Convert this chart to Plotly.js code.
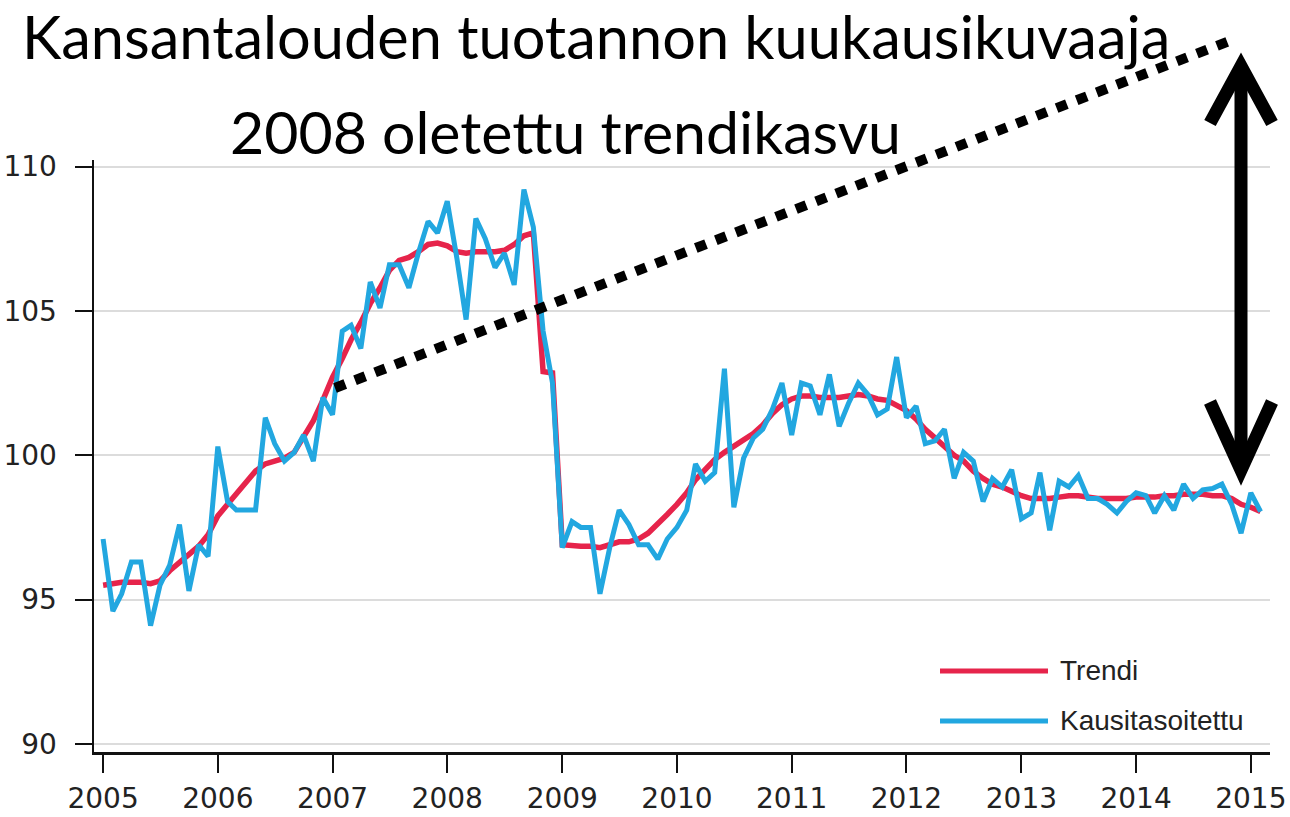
<!DOCTYPE html>
<html>
<head>
<meta charset="utf-8">
<script src="https://cdn.plot.ly/plotly-3.0.1.min.js"></script>
<style>html,body{margin:0;padding:0;background:#fff;}#chart{width:1290px;height:817px;}</style>
</head>
<body>
<div id="chart"></div>
<script>
// ---- data (monthly, Jan 2005 .. Feb 2015) ----
const startYear = 2005;
const yearTicks = ['2005','2006','2007','2008','2009','2010','2011','2012','2013','2014','2015'];
const yTicks = [90, 95, 100, 105, 110];
const seriesNames = ['Trendi', 'Kausitasoitettu'];
const trendi = [
  95.5, 95.55, 95.6, 95.6, 95.6, 95.55, 95.65, 96.0, 96.3, 96.55, 96.85, 97.25,
  97.9, 98.3, 98.65, 99.05, 99.45, 99.7, 99.8, 99.9, 100.1, 100.6, 101.2, 101.9,
  102.7, 103.35, 104.0, 104.6, 105.25, 105.8, 106.4, 106.75, 106.85, 107.05, 107.3, 107.35,
  107.25, 107.05, 107.0, 107.05, 107.05, 107.05, 107.1, 107.3, 107.6, 107.7, 102.9, 102.85,
  96.9, 96.85, 96.85, 96.85, 96.8, 96.9, 97.0, 97.0, 97.1, 97.3, 97.6, 97.95,
  98.3, 98.7, 99.15, 99.5, 99.85, 100.1, 100.3, 100.5, 100.75, 101.05, 101.45, 101.75,
  101.95, 102.05, 102.05, 102.0, 102.0, 102.0, 102.05, 102.1, 102.05, 101.95, 101.9, 101.75,
  101.55, 101.25, 100.9, 100.6, 100.3, 100.0, 99.8, 99.45, 99.2, 99.0, 98.9, 98.75,
  98.6, 98.5, 98.5, 98.5, 98.55, 98.6, 98.6, 98.55, 98.5, 98.5, 98.5, 98.5,
  98.55, 98.55, 98.55, 98.6, 98.6, 98.65, 98.65, 98.65, 98.6, 98.6, 98.5, 98.3,
  98.2, 98.05
];
const kausitasoitettu = [
  97.1, 94.6, 95.2, 96.3, 96.3, 94.1, 95.5, 96.2, 97.6, 95.3, 96.9, 96.5,
  100.3, 98.4, 98.1, 98.1, 98.1, 101.3, 100.4, 99.8, 100.1, 100.7, 99.8, 102.0,
  101.4, 104.3, 104.5, 103.7, 106.0, 105.1, 106.6, 106.6, 105.8, 107.0, 108.1, 107.7,
  108.8, 106.8, 104.7, 108.2, 107.5, 106.5, 107.0, 105.9, 109.2, 107.9, 104.3, 102.5,
  96.8, 97.7, 97.5, 97.5, 95.2, 96.8, 98.1, 97.6, 96.9, 96.9, 96.4, 97.1,
  97.5, 98.1, 99.7, 99.1, 99.4, 103.0, 98.2, 99.9, 100.6, 100.9, 101.6, 102.5,
  100.7, 102.5, 102.4, 101.4, 102.8, 101.0, 101.8, 102.5, 102.1, 101.4, 101.6, 103.4,
  101.3, 101.7, 100.4, 100.5, 100.9, 99.2, 100.1, 99.8, 98.4, 99.2, 98.9, 99.5,
  97.8, 98.0, 99.4, 97.4, 99.1, 98.9, 99.3, 98.5, 98.5, 98.3, 98.0, 98.4,
  98.7, 98.6, 98.0, 98.6, 98.1, 99.0, 98.5, 98.8, 98.85, 99.0, 98.3, 97.3,
  98.7, 98.05
];
const titleText = 'Kansantalouden tuotannon kuukausikuvaaja';
const subtitleText = '2008 oletettu trendikasvu';

// month dates for the x axis
const months = trendi.map((_, i) => {
  const y = startYear + Math.floor(i / 12);
  const m = (i % 12) + 1;
  return y + '-' + String(m).padStart(2, '0') + '-01';
});

const RED = '#e6244b';
const BLUE = '#22a7e0';

// pixel -> paper helpers (plot area: x 94..1270, y 160..752)
const L = 94, R = 1270, T = 160, B = 752;
const xp = px => (px - L) / (R - L);
const yp = py => (B - py) / (B - T);

const traces = [
  {x: months, y: trendi, type: 'scatter', mode: 'lines', name: seriesNames[0],
   line: {color: RED, width: 5.5}},
  {x: months, y: kausitasoitettu, type: 'scatter', mode: 'lines', name: seriesNames[1],
   line: {color: BLUE, width: 5}}
];

const shapes = [
  // assumed trend growth (dotted)
  {type: 'line', xref: 'paper', yref: 'paper', x0: xp(335), y0: yp(388), x1: xp(1232), y1: yp(40),
   line: {color: '#000', width: 10, dash: '11px,10.5px'}},
  // double arrow shaft
  {type: 'line', xref: 'paper', yref: 'paper', x0: xp(1241), y0: yp(68), x1: xp(1241), y1: yp(468),
   line: {color: '#000', width: 13}},
  // top chevron
  {type: 'path', xref: 'paper', yref: 'paper',
   path: 'M' + xp(1210) + ',' + yp(123) + ' L' + xp(1241) + ',' + yp(66) + ' L' + xp(1272) + ',' + yp(123),
   line: {color: '#000', width: 13}},
  // bottom chevron
  {type: 'path', xref: 'paper', yref: 'paper',
   path: 'M' + xp(1210) + ',' + yp(402) + ' L' + xp(1241) + ',' + yp(470) + ' L' + xp(1272) + ',' + yp(402),
   line: {color: '#000', width: 13}},
  // legend samples
  {type: 'line', xref: 'paper', yref: 'paper', x0: xp(940), y0: yp(671), x1: xp(1048), y1: yp(671),
   line: {color: RED, width: 5}},
  {type: 'line', xref: 'paper', yref: 'paper', x0: xp(940), y0: yp(721), x1: xp(1048), y1: yp(721),
   line: {color: BLUE, width: 5}}
];

const annotations = [
  {text: subtitleText, xref: 'paper', yref: 'paper', x: xp(565), y: yp(131), xanchor: 'center', yanchor: 'middle',
   showarrow: false, font: {family: 'Lato, "Open Sans", sans-serif', size: 59, color: '#000'}},
  {text: seriesNames[0], xref: 'paper', yref: 'paper', x: xp(1058), y: yp(670), xanchor: 'left', yanchor: 'middle',
   showarrow: false, font: {family: '"Liberation Sans", Arial, sans-serif', size: 28, color: '#222'}},
  {text: seriesNames[1], xref: 'paper', yref: 'paper', x: xp(1058), y: yp(720), xanchor: 'left', yanchor: 'middle',
   showarrow: false, font: {family: '"Liberation Sans", Arial, sans-serif', size: 28, color: '#222'}}
];

const layout = {
  width: 1290, height: 817,
  margin: {l: L, r: 1290 - R, t: T, b: 817 - B, pad: 0},
  paper_bgcolor: '#fff', plot_bgcolor: '#fff',
  showlegend: false,
  title: {text: titleText, xref: 'container', yref: 'container', x: 22 / 1290, xanchor: 'left',
          y: 1 - 38 / 817, yanchor: 'middle',
          font: {family: 'Lato, "Open Sans", sans-serif', size: 59.5, color: '#000'}},
  xaxis: {
    type: 'date', range: ['2004-12-03', '2015-03-03'],
    tickvals: yearTicks.map(y => y + '-01-01'), ticktext: yearTicks,
    ticks: 'outside', ticklen: 18, tickwidth: 2, tickcolor: '#111',
    showline: true, linecolor: '#111', linewidth: 2.5,
    showgrid: false, zeroline: false,
    tickfont: {family: '"DejaVu Sans", sans-serif', size: 28, color: '#222'},
    ticklabelstandoff: 2
  },
  yaxis: {
    range: [89.723, 110.225], tickvals: yTicks,
    ticks: 'outside', ticklen: 17, tickwidth: 2, tickcolor: '#111',
    showline: true, linecolor: '#111', linewidth: 2.5,
    showgrid: true, gridcolor: '#dcdcdc', gridwidth: 2, zeroline: false,
    tickfont: {family: '"DejaVu Sans", sans-serif', size: 28, color: '#222'},
    ticklabelstandoff: 12
  },
  shapes: shapes,
  annotations: annotations
};

Plotly.newPlot('chart', traces, layout, {displayModeBar: false, staticPlot: true});
</script>
</body>
</html>
